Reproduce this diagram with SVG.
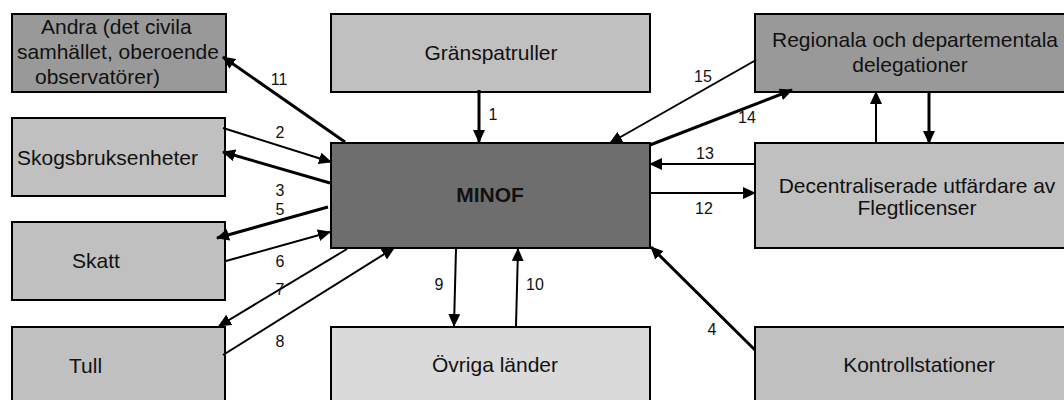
<svg xmlns="http://www.w3.org/2000/svg" width="1064" height="400" viewBox="0 0 1064 400">
<defs>
<style>
.box{stroke:#000;stroke-width:2}
.shadow{fill:#000}
.dark{fill:#999999}
.darker{fill:#6e6e6e}
.mid{fill:#c0c0c0}
.light{fill:#dadada}
.t{font-family:"Liberation Sans",Arial,sans-serif;font-size:21px;fill:#111}
.tc{text-anchor:middle}
.b{font-weight:bold}
.n{font-family:"Liberation Sans",Arial,sans-serif;font-size:16px;fill:#111;text-anchor:middle}
.c{stroke:#000;fill:none;stroke-width:2;marker-end:url(#ah)}
.w{stroke-width:3}
</style>
<marker id="ah" markerUnits="userSpaceOnUse" markerWidth="13" markerHeight="12" refX="12" refY="6" orient="auto">
<path d="M0,0 L13,6 L0,12 z" fill="#000"/>
</marker>
</defs>

<g id="andra">
<rect class="shadow" x="11" y="15" width="214" height="78"/>
<rect class="box dark" x="12" y="14" width="214" height="78"/>
<text class="t" x="41" y="34">Andra (det civila</text>
<text class="t" x="17" y="59">samhället, oberoende</text>
<text class="t" x="35" y="84">observatörer)</text>
</g>
<g id="skogsbruksenheter">
<rect class="shadow" x="11" y="119" width="213" height="78"/>
<rect class="box mid" x="12" y="118" width="213" height="78"/>
<text class="t" x="17" y="165">Skogsbruksenheter</text>
</g>
<g id="skatt">
<rect class="shadow" x="11" y="223" width="213" height="78"/>
<rect class="box mid" x="12" y="222" width="213" height="78"/>
<text class="t" x="72" y="268">Skatt</text>
</g>
<g id="tull">
<rect class="shadow" x="11" y="328" width="213" height="80"/>
<rect class="box mid" x="12" y="327" width="213" height="80"/>
<text class="t" x="69" y="373">Tull</text>
</g>
<g id="granspatruller">
<rect class="shadow" x="330" y="15" width="319" height="78"/>
<rect class="box mid" x="331" y="14" width="319" height="78"/>
<text class="t tc" x="491" y="60">Gränspatruller</text>
</g>
<g id="minof">
<rect class="shadow" x="330" y="144" width="319" height="105"/>
<rect class="box darker" x="331" y="143" width="319" height="105"/>
<text class="t tc b" x="490" y="202">MINOF</text>
</g>
<g id="ovriga">
<rect class="shadow" x="330" y="328" width="319" height="80"/>
<rect class="box light" x="331" y="327" width="319" height="80"/>
<text class="t tc" x="495" y="372">Övriga länder</text>
</g>
<g id="regionala">
<rect class="shadow" x="754" y="15" width="320" height="78"/>
<rect class="box dark" x="755" y="14" width="320" height="78"/>
<text class="t tc" x="915" y="47">Regionala och departementala</text>
<text class="t tc" x="910" y="72">delegationer</text>
</g>
<g id="decentraliserade">
<rect class="shadow" x="754" y="144" width="320" height="105"/>
<rect class="box mid" x="755" y="143" width="320" height="105"/>
<text class="t tc" x="917" y="193">Decentraliserade utfärdare av</text>
<text class="t tc" x="917" y="215">Flegtlicenser</text>
</g>
<g id="kontrollstationer">
<rect class="shadow" x="754" y="328" width="320" height="80"/>
<rect class="box mid" x="755" y="327" width="320" height="80"/>
<text class="t tc" x="919" y="372">Kontrollstationer</text>
</g>

<g id="connectors">
<line class="c w" x1="345" y1="142" x2="223" y2="57"/>
<line class="c" x1="223" y1="128" x2="331" y2="162"/>
<line class="c w" x1="330" y1="183" x2="223" y2="152"/>
<line class="c w" x1="328" y1="207" x2="217" y2="238"/>
<line class="c" x1="226" y1="261" x2="330" y2="232"/>
<line class="c" x1="347" y1="249" x2="219" y2="326"/>
<line class="c" x1="223" y1="355" x2="394" y2="248"/>
<line class="c w" x1="479" y1="90" x2="479" y2="142"/>
<line class="c" x1="456" y1="249" x2="454" y2="326"/>
<line class="c" x1="516" y1="326" x2="518" y2="249"/>
<line class="c" x1="756" y1="60" x2="610" y2="143"/>
<line class="c w" x1="650" y1="145" x2="792" y2="90"/>
<line class="c" x1="755" y1="164" x2="650" y2="164"/>
<line class="c" x1="650" y1="193" x2="755" y2="193"/>
<line class="c w" x1="755" y1="350" x2="651" y2="247"/>
<line class="c" x1="876" y1="143" x2="876" y2="92"/>
<line class="c w" x1="929" y1="92" x2="929" y2="143"/>
</g>

<g id="labels">
<text class="n" x="279" y="85">11</text>
<text class="n" x="280" y="138">2</text>
<text class="n" x="280" y="196">3</text>
<text class="n" x="280" y="215">5</text>
<text class="n" x="280" y="267">6</text>
<text class="n" x="280" y="295">7</text>
<text class="n" x="280" y="347">8</text>
<text class="n" x="493" y="120">1</text>
<text class="n" x="439" y="290">9</text>
<text class="n" x="535" y="290">10</text>
<text class="n" x="703" y="82">15</text>
<text class="n" x="747" y="123">14</text>
<text class="n" x="705" y="159">13</text>
<text class="n" x="704" y="214">12</text>
<text class="n" x="712" y="335">4</text>
</g>
</svg>
